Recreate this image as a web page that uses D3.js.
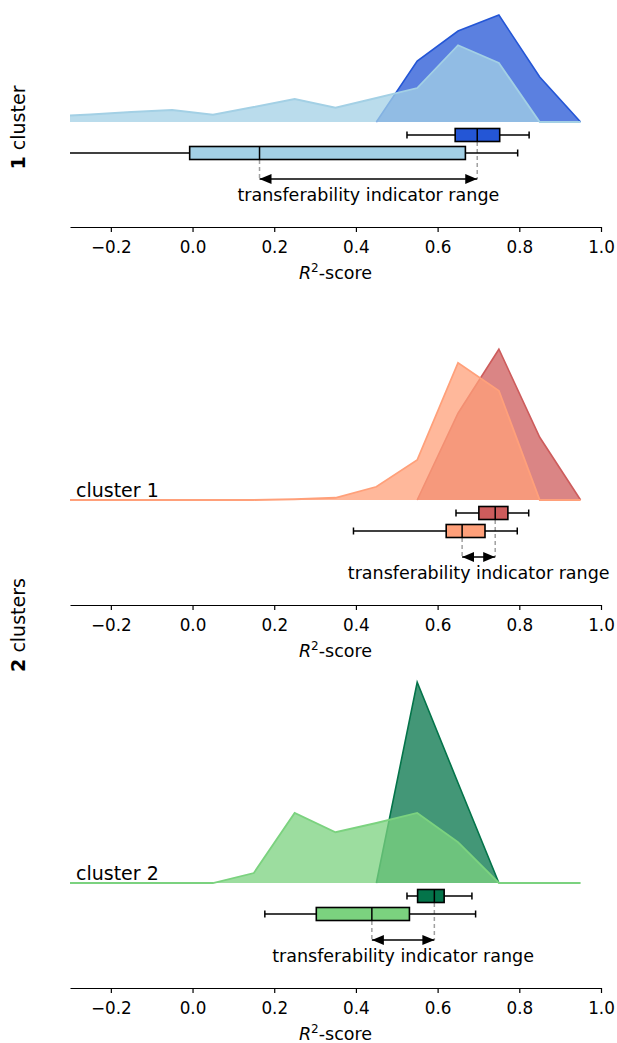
<!DOCTYPE html>
<html>
<head>
<meta charset="UTF-8" />
<style>
  body { margin: 0; background: #fff; }
  svg text { font-family: "DejaVu Sans", sans-serif; fill: #000; }
  .axis path, .axis line { stroke: #000; stroke-width: 1.2px; }
  .axis text { font-size: 16.8px; }
  .whisk { stroke: #000; stroke-width: 1.5px; }
  .guide { stroke: #a0a0a0; stroke-width: 1.5px; stroke-dasharray: 4,3; }
</style>
<script src="https://cdn.jsdelivr.net/npm/d3@7"></script>
</head>
<body>
<svg width="617" height="1043"></svg>
<script>
// bin centres of the density curves
var grid = [-0.35, -0.25, -0.15, -0.05, 0.05, 0.15, 0.25, 0.35, 0.45, 0.55, 0.65, 0.75, 0.85, 0.95];

// 1 cluster
var dens1Dark  = [0, 0, 0, 0, 0, 0, 0, 0, 0, 2.44, 3.64, 4.28, 1.8, 0];
var dens1Light = [0.22, 0.3, 0.4, 0.48, 0.29, 0.6, 0.92, 0.57, 0.96, 1.36, 3.07, 2.36, 0, 0];
// 2 clusters, cluster 1
var dens2Dark  = [0, 0, 0, 0, 0, 0, 0, 0, 0, 0, 3.47, 6.03, 2.51, 0];
var dens2Light = [0, 0, 0, 0, 0, 0, 0.03, 0.09, 0.53, 1.6, 5.49, 4.37, 0, 0];
// 2 clusters, cluster 2
var dens3Dark  = [0, 0, 0, 0, 0, 0, 0, 0, 0, 8.03, 4.0, 0, 0, 0];
var dens3Light = [0, 0, 0, 0, 0, 0.4, 2.8, 2.03, 2.4, 2.8, 1.63, 0, 0, 0];

// boxplots: [whisker low, q1, median, q3, whisker high]
var box1Dark  = [0.525, 0.643, 0.697, 0.752, 0.824];
var box1Light = [-0.42, -0.007, 0.164, 0.668, 0.796];
var box2Dark  = [0.645, 0.701, 0.741, 0.772, 0.823];
var box2Light = [0.394, 0.621, 0.660, 0.716, 0.795];
var box3Dark  = [0.525, 0.551, 0.592, 0.616, 0.684];
var box3Light = [0.177, 0.303, 0.439, 0.531, 0.693];

var ticks = [-0.2, 0.0, 0.2, 0.4, 0.6, 0.8, 1.0];
var panelNames = ["", "cluster 1", "cluster 2"];

var panels = [
  { base: 122, name: panelNames[0], dark: dens1Dark, light: dens1Light, boxDark: box1Dark, boxLight: box1Light, cDark: "#2456d6", cLight: "#a3d0e5" },
  { base: 500, name: panelNames[1], dark: dens2Dark, light: dens2Light, boxDark: box2Dark, boxLight: box2Light, cDark: "#cd5c5c", cLight: "#ffa07a" },
  { base: 883, name: panelNames[2], dark: dens3Dark, light: dens3Light, boxDark: box3Dark, boxLight: box3Light, cDark: "#04744a", cLight: "#7bd27f" }
];

var svg = d3.select("svg");
var x = d3.scaleLinear().domain([-0.3, 1.0]).range([70, 601]);

var defs = svg.append("defs");
defs.append("clipPath").attr("id", "clip")
  .append("rect").attr("x", 70).attr("y", 0).attr("width", 547).attr("height", 1043);
defs.append("marker")
  .attr("id", "head")
  .attr("viewBox", "0 0 12 10")
  .attr("refX", 12).attr("refY", 5)
  .attr("markerWidth", 12).attr("markerHeight", 10)
  .attr("markerUnits", "userSpaceOnUse")
  .attr("orient", "auto-start-reverse")
  .append("path").attr("d", "M0,0L12,5L0,10z").attr("fill", "#000");

function drawBox(g, q, cy, color) {
  var h = 13, c = 3.5;
  g.append("line").attr("class", "whisk")
    .attr("x1", x(q[0])).attr("x2", x(q[1])).attr("y1", cy).attr("y2", cy);
  g.append("line").attr("class", "whisk")
    .attr("x1", x(q[3])).attr("x2", x(q[4])).attr("y1", cy).attr("y2", cy);
  [q[0], q[4]].forEach(function (v) {
    g.append("line").attr("class", "whisk")
      .attr("x1", x(v)).attr("x2", x(v)).attr("y1", cy - c).attr("y2", cy + c);
  });
  g.append("rect")
    .attr("x", x(q[1])).attr("y", cy - h / 2)
    .attr("width", x(q[3]) - x(q[1])).attr("height", h)
    .attr("fill", color).attr("stroke", "#000").attr("stroke-width", 1.6);
  g.append("line").attr("class", "whisk")
    .attr("x1", x(q[2])).attr("x2", x(q[2])).attr("y1", cy - h / 2).attr("y2", cy + h / 2);
}

panels.forEach(function (p) {
  var B = p.base;
  var y = d3.scaleLinear().domain([0, 8]).range([B, B - 200]);
  var area = d3.area().x(function (d, i) { return x(grid[i]); }).y0(y(0)).y1(function (d) { return y(d); });
  var line = d3.line().x(function (d, i) { return x(grid[i]); }).y(function (d) { return y(d); });
  // the dark outline only runs over the hump, not along the zero baseline
  var hump = d3.line().x(function (d, i) { return x(grid[i]); }).y(function (d) { return y(d); })
    .defined(function (d, i, a) { return d > 0 || a[i - 1] > 0 || a[i + 1] > 0; });

  var ga = svg.append("g").attr("clip-path", "url(#clip)");
  ga.append("path").datum(p.dark).attr("d", area)
    .attr("fill", p.cDark).attr("fill-opacity", 0.75);
  ga.append("path").datum(p.dark).attr("d", hump)
    .attr("fill", "none").attr("stroke", p.cDark).attr("stroke-width", 1.6);
  ga.append("path").datum(p.light).attr("d", area)
    .attr("fill", p.cLight).attr("fill-opacity", 0.75);
  ga.append("path").datum(p.light).attr("d", line)
    .attr("fill", "none").attr("stroke", p.cLight).attr("stroke-width", 1.8);

  if (p.name) {
    svg.append("text").attr("x", 76).attr("y", B - 3)
      .style("font-size", "19px").text(p.name);
  }

  var gb = svg.append("g").attr("clip-path", "url(#clip)");
  var arrowY = B + 57;
  gb.append("line").attr("class", "guide")
    .attr("x1", x(p.boxDark[2])).attr("x2", x(p.boxDark[2]))
    .attr("y1", B + 13 + 7).attr("y2", arrowY);
  gb.append("line").attr("class", "guide")
    .attr("x1", x(p.boxLight[2])).attr("x2", x(p.boxLight[2]))
    .attr("y1", B + 31 + 7).attr("y2", arrowY);
  drawBox(gb, p.boxDark, B + 13, p.cDark);
  drawBox(gb, p.boxLight, B + 31, p.cLight);

  gb.append("line")
    .attr("x1", x(p.boxLight[2])).attr("x2", x(p.boxDark[2]))
    .attr("y1", arrowY).attr("y2", arrowY)
    .attr("stroke", "#000").attr("stroke-width", 1.6)
    .attr("marker-start", "url(#head)").attr("marker-end", "url(#head)");

  svg.append("text")
    .attr("x", x((p.boxLight[2] + p.boxDark[2]) / 2)).attr("y", B + 79)
    .attr("text-anchor", "middle").style("font-size", "17.5px")
    .text("transferability indicator range");

  var axisY = B + 105;
  svg.append("g").attr("class", "axis")
    .attr("transform", "translate(0," + axisY + ")")
    .call(d3.axisBottom(x).tickValues(ticks).tickFormat(d3.format(".1f"))
      .tickSize(5).tickSizeOuter(0).tickPadding(9))
    .call(function (g) { g.selectAll("text").attr("font-family", null).attr("font-size", null); });

  var lab = svg.append("text").attr("x", 335.5).attr("y", axisY + 52)
    .attr("text-anchor", "middle").style("font-size", "17.5px");
  lab.append("tspan").style("font-style", "italic").text("R");
  lab.append("tspan").attr("dy", -7).style("font-size", "12px").text("2");
  lab.append("tspan").attr("dy", 7).text("-score");
});

// row labels
function rowLabel(cy, num, rest) {
  var t = svg.append("text")
    .attr("transform", "translate(25," + cy + ") rotate(-90)")
    .attr("text-anchor", "middle").style("font-size", "19px");
  t.append("tspan").style("font-weight", "bold").text(num);
  t.append("tspan").text(" " + rest);
}
rowLabel(127.5, "1", "cluster");
rowLabel(625, "2", "clusters");
</script>
</body>
</html>
